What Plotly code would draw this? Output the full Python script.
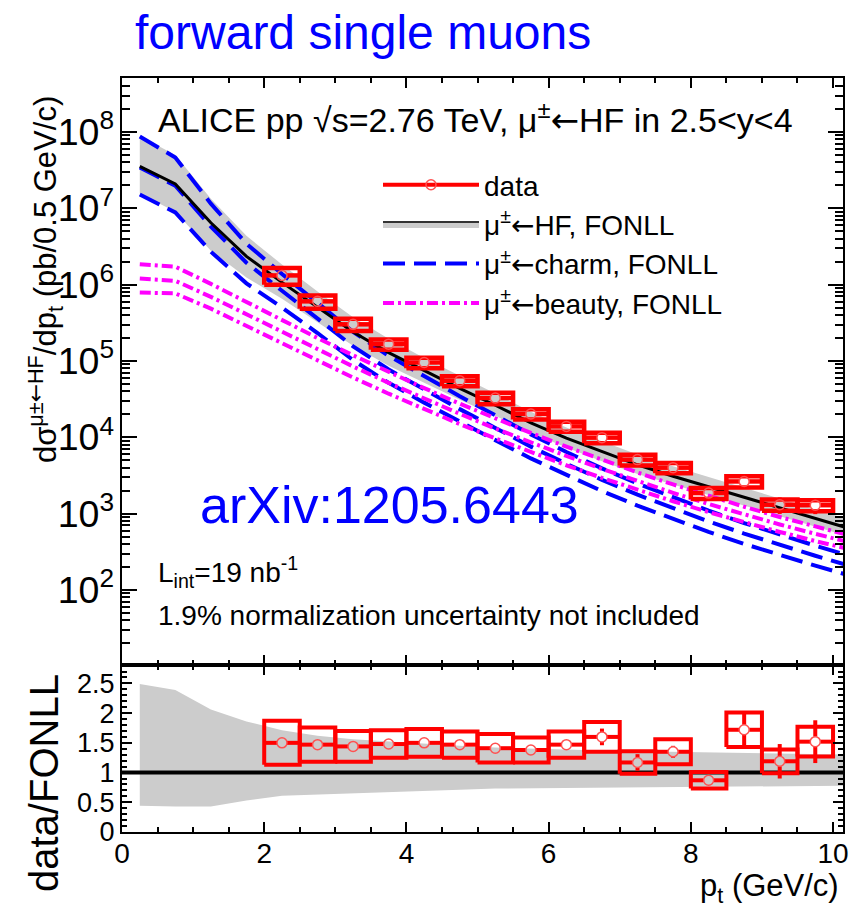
import numpy as np
import plotly.graph_objects as go

# ---------------- values ----------------
# measured muon-from-HF cross section (pb / 0.5 GeV/c), bins of width 0.5 GeV/c
pt_centers = [2.25, 2.75, 3.25, 3.75, 4.25, 4.75, 5.25, 5.75,
              6.25, 6.75, 7.25, 7.75, 8.25, 8.75, 9.25, 9.75]
pt_half_width = 0.25
data_xsec = [1.32e6, 6.04e5, 3.02e5, 1.66e5, 9.55e4, 5.5e4, 3.27e4, 2.02e4,
             1.39e4, 9.9e3, 5.1e3, 4.0e3, 1.86e3, 2.64e3, 1.31e3, 1.29e3]

# data / FONLL ratio, with systematic (box) and statistical (bar) uncertainties
ratio_vals = [1.50, 1.47, 1.44, 1.48, 1.50, 1.47, 1.41, 1.38,
              1.47, 1.60, 1.17, 1.35, 0.87, 1.72, 1.19, 1.52]
ratio_sys = [0.37, 0.29, 0.26, 0.23, 0.235, 0.22, 0.24, 0.21,
             0.22, 0.25, 0.19, 0.21, 0.14, 0.29, 0.20, 0.25]
ratio_stat = [0.05, 0.05, 0.05, 0.05, 0.05, 0.05, 0.05, 0.06,
              0.07, 0.14, 0.14, 0.10, 0.06, 0.28, 0.29, 0.36]

# FONLL predictions, nodes every 0.5 GeV/c (values given as log10 of pb/0.5 GeV/c)
fonll_pt = [0.25, 0.75, 1.25, 1.75, 2.25, 2.75, 3.25, 3.75, 4.25, 4.75, 5.25,
            5.75, 6.25, 6.75, 7.25, 7.75, 8.25, 8.75, 9.25, 9.75, 10.25]
hf_log10 = [7.55, 7.32, 6.81, 6.37, 6.03, 5.70, 5.38, 5.11, 4.87, 4.64, 4.42,
            4.19, 3.99, 3.81, 3.64, 3.49, 3.35, 3.21, 3.08, 2.94, 2.80]
# FONLL HF uncertainty band, relative to central (as seen in the ratio panel)
band_up = [2.49, 2.39, 2.06, 1.86, 1.71, 1.62, 1.56, 1.52, 1.48, 1.45, 1.42,
           1.40, 1.38, 1.37, 1.36, 1.35, 1.34, 1.33, 1.32, 1.31, 1.30]
band_lo = [0.44, 0.43, 0.43, 0.53, 0.61, 0.64, 0.66, 0.67, 0.69, 0.71, 0.73,
           0.74, 0.75, 0.75, 0.755, 0.76, 0.765, 0.77, 0.77, 0.775, 0.78]

charm_c_log10 = [7.535, 7.296, 6.761, 6.287, 5.920, 5.556, 5.191, 4.888, 4.624, 4.369, 4.123,
                 3.878, 3.653, 3.443, 3.248, 3.068, 2.898, 2.738, 2.588, 2.448, 2.313]
charm_u_log10 = [7.940, 7.666, 7.061, 6.537, 6.140, 5.756, 5.381, 5.068, 4.799, 4.539, 4.288,
                 4.038, 3.808, 3.593, 3.395, 3.212, 3.039, 2.876, 2.723, 2.580, 2.443]
charm_l_log10 = [7.180, 6.946, 6.431, 6.017, 5.700, 5.366, 5.011, 4.713, 4.454, 4.204, 3.963,
                 3.723, 3.503, 3.296, 3.104, 2.927, 2.760, 2.603, 2.456, 2.318, 2.185]

beauty_c_log10 = [6.080, 6.050, 5.840, 5.610, 5.380, 5.150, 4.928, 4.713, 4.506, 4.307, 4.115,
                  3.931, 3.755, 3.586, 3.425, 3.272, 3.126, 2.988, 2.858, 2.735, 2.620]
beauty_u_log10 = [6.267, 6.235, 6.010, 5.770, 5.535, 5.300, 5.074, 4.855, 4.644, 4.441, 4.245,
                  4.057, 3.877, 3.704, 3.539, 3.382, 3.232, 3.090, 2.956, 2.829, 2.710]
beauty_l_log10 = [5.897, 5.885, 5.685, 5.458, 5.230, 5.002, 4.783, 4.571, 4.368, 4.173, 3.985,
                  3.805, 3.633, 3.468, 3.311, 3.162, 3.020, 2.886, 2.760, 2.641, 2.530]

x_tick_labels = ["0", "2", "4", "6", "8", "10"]
ratio_tick_labels = ["0", "0.5", "1", "1.5", "2", "2.5"]

# ---------------- layout constants ----------------
W, H = 865, 914
ML, MR, MT, MB = 122, 22, 78, 82
PW, PH = W - ML - MR, H - MT - MB
XR = [0.0, 10.14]
YR_MAIN = [1.017, 8.707]
YR_RATIO = [0.0, 2.81]
SPLIT = (832 - 665) / PH
FONT = "Liberation Sans, Arial, Helvetica, sans-serif"
RED = "#ff0000"
GRAY = "#cccccc"
ARROW = "<span style='font-family:DejaVu Sans'>←</span>"

px_per_x = PW / (XR[1] - XR[0])
px_per_dec = (665 - MT) / (YR_MAIN[1] - YR_MAIN[0])
px_per_ratio = (832 - 665) / (YR_RATIO[1] - YR_RATIO[0])
GAP_PX = 5.0


def px2paper(px, py):
    return (px - ML) / PW, (H - MB - py) / PH


fpt = np.array(fonll_pt)
hf = np.power(10.0, hf_log10)
charm = [np.power(10.0, a) for a in (charm_u_log10, charm_c_log10, charm_l_log10)]
beauty = [np.power(10.0, a) for a in (beauty_u_log10, beauty_c_log10, beauty_l_log10)]

x = np.array(pt_centers)
yd = np.array(data_xsec)
r = np.array(ratio_vals)
rs = np.array(ratio_sys)
rst = np.array(ratio_stat)
rel_sys = rs / r
rel_stat = rst / r


def boxes(xc, lo, hi, hw):
    bx, by = [], []
    for xi, l, h in zip(xc, lo, hi):
        bx += [xi - hw, xi + hw, xi + hw, xi - hw, xi - hw, None]
        by += [l, l, h, h, l, None]
    return bx, by


def hbars(xc, yc, hw, gap):
    bx, by = [], []
    for xi, yi in zip(xc, yc):
        bx += [xi - hw, xi - gap, None, xi + gap, xi + hw, None]
        by += [yi, yi, None, yi, yi, None]
    return bx, by


def vbars_lin(xc, yc, err, gap):
    bx, by = [], []
    for xi, yi, e in zip(xc, yc, err):
        if e > gap:
            bx += [xi, xi, None, xi, xi, None]
            by += [yi + gap, yi + e, None, yi - gap, yi - e, None]
    return bx, by


def vbars_log(xc, yc, relerr, gapdec):
    bx, by = [], []
    g = 10 ** gapdec
    for xi, yi, e in zip(xc, yc, relerr):
        if (1 + e) > g:
            bx += [xi, xi, None, xi, xi, None]
            by += [yi * g, yi * (1 + e), None, yi / g, max(yi * (1 - e), 1e-9), None]
    return bx, by


fig = go.Figure()

# ---------- main panel ----------
fig.add_trace(go.Scatter(
    x=np.concatenate([fpt, fpt[::-1]]),
    y=np.concatenate([hf * np.array(band_up), (hf * np.array(band_lo))[::-1]]),
    fill="toself", fillcolor=GRAY, line=dict(width=0), mode="lines",
    hoverinfo="skip", showlegend=False, xaxis="x", yaxis="y"))

# legend-only entries (no coordinates)
fig.add_trace(go.Scatter(x=[None], y=[None], mode="lines+markers", name="data",
                         line=dict(color=RED, width=4),
                         marker=dict(symbol="circle-open", color="#ff5050", size=10, line=dict(width=1.5)),
                         legendrank=1, xaxis="x", yaxis="y"))
fig.add_trace(go.Scatter(x=[None], y=[None], mode="lines", fill="toself", fillcolor=GRAY,
                         line=dict(color="#333333", width=2),
                         name="μ<sup>±</sup>" + ARROW + "HF, FONLL", legendrank=2, xaxis="x", yaxis="y"))

for i, yv in enumerate(charm):
    fig.add_trace(go.Scatter(x=fpt, y=yv, mode="lines",
                             line=dict(color="#0000ff", width=4, dash="22px,9px"),
                             name="μ<sup>±</sup>" + ARROW + "charm, FONLL", showlegend=(i == 0),
                             legendrank=3, hoverinfo="skip", xaxis="x", yaxis="y"))
for i, yv in enumerate(beauty):
    fig.add_trace(go.Scatter(x=fpt, y=yv, mode="lines",
                             line=dict(color="#ff00ff", width=4, dash="11px,4px,3px,4px"),
                             name="μ<sup>±</sup>" + ARROW + "beauty, FONLL", showlegend=(i == 0),
                             legendrank=4, hoverinfo="skip", xaxis="x", yaxis="y"))

fig.add_trace(go.Scatter(x=fpt, y=hf, mode="lines", line=dict(color="black", width=3),
                         showlegend=False, hoverinfo="skip", xaxis="x", yaxis="y"))

bx, by = boxes(x, yd * (1 - rel_sys), yd * (1 + rel_sys), pt_half_width)
fig.add_trace(go.Scatter(x=bx, y=by, mode="lines", line=dict(color=RED, width=4.5),
                         showlegend=False, hoverinfo="skip", xaxis="x", yaxis="y"))
hx, hy = hbars(x, yd, pt_half_width, GAP_PX / px_per_x)
fig.add_trace(go.Scatter(x=hx, y=hy, mode="lines", line=dict(color=RED, width=4.5),
                         showlegend=False, hoverinfo="skip", xaxis="x", yaxis="y"))
vx, vy = vbars_log(x, yd, rel_stat, GAP_PX / px_per_dec)
if vx:
    fig.add_trace(go.Scatter(x=vx, y=vy, mode="lines", line=dict(color=RED, width=4),
                             showlegend=False, hoverinfo="skip", xaxis="x", yaxis="y"))
fig.add_trace(go.Scatter(x=x, y=yd, mode="markers",
                         marker=dict(symbol="circle-open", color="#ff5050", size=10, line=dict(width=1.5)),
                         showlegend=False, xaxis="x", yaxis="y"))

# ---------- ratio panel ----------
fig.add_trace(go.Scatter(
    x=np.concatenate([fpt, fpt[::-1]]),
    y=np.concatenate([np.array(band_up), np.array(band_lo)[::-1]]),
    fill="toself", fillcolor=GRAY, line=dict(width=0), mode="lines",
    hoverinfo="skip", showlegend=False, xaxis="x2", yaxis="y2"))
fig.add_trace(go.Scatter(x=XR, y=[1, 1], mode="lines", line=dict(color="black", width=4),
                         showlegend=False, hoverinfo="skip", xaxis="x2", yaxis="y2"))
bx, by = boxes(x, r - rs, r + rs, pt_half_width)
fig.add_trace(go.Scatter(x=bx, y=by, mode="lines", line=dict(color=RED, width=4),
                         showlegend=False, hoverinfo="skip", xaxis="x2", yaxis="y2"))
hx, hy = hbars(x, r, pt_half_width, GAP_PX / px_per_x)
fig.add_trace(go.Scatter(x=hx, y=hy, mode="lines", line=dict(color=RED, width=4),
                         showlegend=False, hoverinfo="skip", xaxis="x2", yaxis="y2"))
vx, vy = vbars_lin(x, r, rst, GAP_PX / px_per_ratio)
fig.add_trace(go.Scatter(x=vx, y=vy, mode="lines", line=dict(color=RED, width=4),
                         showlegend=False, hoverinfo="skip", xaxis="x2", yaxis="y2"))
fig.add_trace(go.Scatter(x=x, y=r, mode="markers",
                         marker=dict(symbol="circle-open", color="#ff5050", size=10, line=dict(width=1.5)),
                         showlegend=False, xaxis="x2", yaxis="y2"))

axis_common = dict(showgrid=False, zeroline=False, showline=True, linecolor="black",
                   linewidth=2, ticks="inside", tickcolor="black", tickwidth=2,
                   mirror="allticks")

fig.update_layout(
    width=W, height=H,
    margin=dict(l=ML, r=MR, t=MT, b=MB, autoexpand=False),
    paper_bgcolor="white", plot_bgcolor="white",
    font=dict(family=FONT, color="black"),
    showlegend=True,
    legend=dict(x=px2paper(378, 0)[0], y=px2paper(0, 160)[1], xanchor="left", yanchor="top",
                bgcolor="rgba(0,0,0,0)", font=dict(size=28, family=FONT),
                itemwidth=96, tracegroupgap=0, traceorder="normal"),
    xaxis=dict(domain=[0, 1], range=XR, anchor="y", showticklabels=False,
               tick0=0, dtick=2, ticklen=10,
               minor=dict(ticks="inside", ticklen=5, dtick=0.5, tickcolor="black", tickwidth=2),
               **axis_common),
    yaxis=dict(domain=[SPLIT, 1], type="log", range=YR_MAIN, anchor="x",
               dtick=1, exponentformat="power", ticklen=15,
               tickfont=dict(size=30, family=FONT),
               minor=dict(ticks="inside", ticklen=8, dtick="D1", tickcolor="black", tickwidth=2),
               **axis_common),
    xaxis2=dict(domain=[0, 1], range=XR, anchor="y2", matches="x",
                tickvals=[0, 2, 4, 6, 8, 10], ticktext=x_tick_labels, ticklen=10,
                tickfont=dict(size=28, family=FONT), ticklabelstandoff=-5,
                minor=dict(ticks="inside", ticklen=5, dtick=0.5, tickcolor="black", tickwidth=2),
                **axis_common),
    yaxis2=dict(domain=[0, SPLIT], range=YR_RATIO, anchor="x2",
                tickvals=[0, 0.5, 1, 1.5, 2, 2.5], ticktext=ratio_tick_labels, ticklen=10,
                tickfont=dict(size=27, family=FONT),
                minor=dict(ticks="inside", ticklen=5, dtick=0.1, tickcolor="black", tickwidth=2),
                **axis_common),
)


def note(px, py, text, size, color="black", xanchor="left", yanchor="middle", angle=0):
    xp, yp = px2paper(px, py)
    fig.add_annotation(x=xp, y=yp, xref="paper", yref="paper", text=text, showarrow=False,
                       xanchor=xanchor, yanchor=yanchor, textangle=angle,
                       font=dict(size=size, color=color, family=FONT))


note(133, 33, "forward single muons", 48, color="#0000ff")
note(156, 118, "ALICE pp √s=2.76 TeV, μ<sup>±</sup>" + ARROW + "HF in 2.5&lt;y&lt;4", 34)
note(198, 505, "arXiv:1205.6443", 52, color="#0000ff")
note(156, 572, "L<sub>int</sub>=19 nb<sup>-1</sup>", 28)
note(156, 615, "1.9% normalization uncertainty not included", 28)
note(45, 280, "dσ<sup>μ±" + ARROW + "HF</sup>/dp<sub>t</sub> (pb/0.5 GeV/c)", 31, xanchor="center", angle=-90)
note(44, 783, "data/FONLL", 40, xanchor="center", angle=-90)
note(841, 888, "p<sub>t</sub> (GeV/c)", 31, xanchor="right")

fig.write_html("out.html")
